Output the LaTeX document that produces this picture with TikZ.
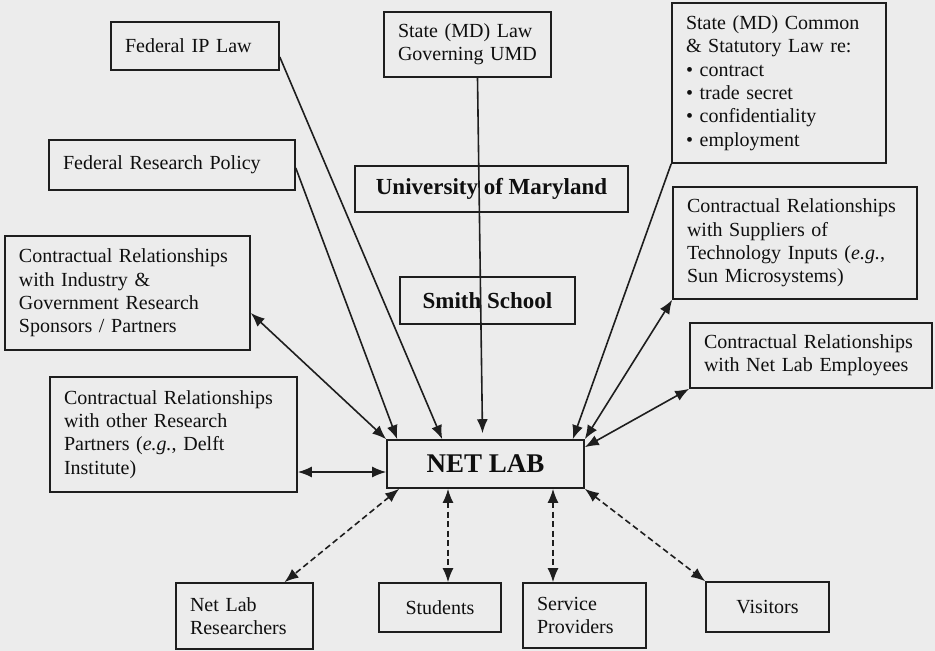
\documentclass[tikz,border=0pt]{standalone}
\usepackage{fontspec}
\setmainfont{Liberation Serif}
\usetikzlibrary{arrows.meta}
\definecolor{bgpaper}{RGB}{236,236,236}
\definecolor{linegray}{RGB}{30,30,30}
\definecolor{inkblack}{RGB}{15,15,15}

\begin{document}
\begin{tikzpicture}[x=1pt,y=-1pt,>={Latex[length=14pt,width=11pt]},
  box/.style={draw=linegray,line width=1.6pt,inner xsep=14pt,inner ysep=0pt,align=left,
    font=\fontsize{20}{23.3}\selectfont,text=inkblack},
  cbox/.style={draw=linegray,line width=1.6pt,inner sep=0pt,align=center,
    font=\fontsize{20}{23.3}\selectfont,text=inkblack},
  rel/.style={line width=1.6pt,draw=linegray},
  dashrel/.style={rel,dash pattern=on 6pt off 3.5pt}]
\fill[bgpaper] (0,0) rectangle (935,651);
\useasboundingbox (0,0) rectangle (935,651);

% left column
\node[box,text width=140pt,minimum height=48pt] (fedip) at (195,46) {Federal IP Law};
\node[box,text width=218pt,minimum height=50pt] (fedres) at (172,165) {Federal Research Policy};
\node[box,text width=217pt,minimum height=114pt] (industry) at (127.5,293)
  {Contractual Relationships\\with Industry \&\\Government Research\\Sponsors / Partners};
\node[box,text width=219pt,minimum height=115pt] (otherres) at (173.5,434.5)
  {Contractual Relationships\\with other Research\\Partners (\textit{e.g.}, Delft\\Institute)};

% middle column
\node[box,text width=139pt,minimum height=65pt] (statelaw) at (467.5,44.5) {State (MD) Law\\Governing UMD};
\node[cbox,minimum width=273pt,minimum height=46pt,font=\fontsize{23}{27}\selectfont\bfseries] (umd) at (491.5,189) {University of Maryland};
\node[cbox,minimum width=175pt,minimum height=47pt,font=\fontsize{23}{27}\selectfont\bfseries] (smith) at (487.5,300.5) {Smith School};
\node[cbox,minimum width=197pt,minimum height=48pt,font=\fontsize{27}{31}\selectfont\bfseries] (net) at (485.5,464) {NET LAB};

% right column
\node[box,text width=186pt,minimum height=160pt] (statecommon) at (779,83)
  {State (MD) Common\\\& Statutory Law re:\\\textbullet\ contract\\\textbullet\ trade secret\\\textbullet\ confidentiality\\\textbullet\ employment};
\node[box,text width=216pt,minimum height=112pt] (suppliers) at (795,243)
  {Contractual Relationships\\with Suppliers of\\Technology Inputs (\textit{e.g.},\\Sun Microsystems)};
\node[box,text width=214pt,minimum height=65pt] (employees) at (811,355.5)
  {Contractual Relationships\\with Net Lab Employees};

% bottom row
\node[box,text width=109pt,minimum height=66pt] (researchers) at (244.5,616) {Net Lab\\Researchers};
\node[cbox,minimum width=122pt,minimum height=49pt] (students) at (440,607.5) {Students};
\node[box,text width=95pt,minimum height=65pt] (service) at (584.5,615.5) {Service\\Providers};
\node[cbox,minimum width=123pt,minimum height=50pt] (visitors) at (767.5,607) {Visitors};

% influences on the lab
\draw[rel,->] ([yshift=-11pt]fedip.east) -- ([xshift=56pt]net.north west);
\draw[rel,->] ([yshift=-3pt]fedres.east) -- ([xshift=11pt]net.north west);
\draw[rel,->] ([xshift=10pt]statelaw.south) -- ([xshift=-3pt,yshift=6pt]net.north);
\draw[rel,->] (statecommon.south west) -- ([xshift=-12pt]net.north east);

% contracts
\draw[rel,<->] ([yshift=-20pt]industry.east) -- (net.north west);
\draw[rel,<->] ([yshift=-37.5pt]otherres.east) -- ([yshift=-8pt]net.west);
\draw[rel,<->] (suppliers.south west) -- (net.north east);
\draw[rel,<->] (employees.south west) -- ([yshift=-8pt]net.north east);

% people
\draw[dashrel,<->] ([xshift=13pt]net.south west) -- ([xshift=40pt]researchers.north);
\draw[dashrel,<->] ([xshift=-37.5pt]net.south) -- ([xshift=8pt]students.north);
\draw[dashrel,<->] ([xshift=67.5pt]net.south) -- ([xshift=-31.5pt]service.north);
\draw[dashrel,<->] (net.south east) -- (visitors.north west);
\end{tikzpicture}
\end{document}
